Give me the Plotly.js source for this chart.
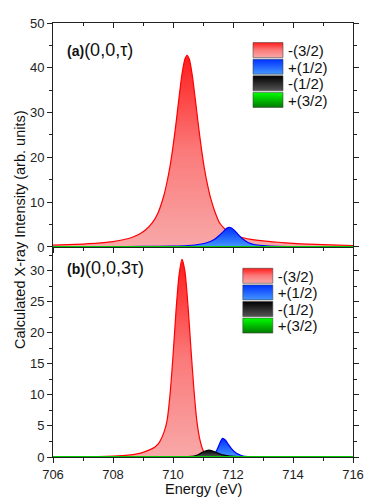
<!DOCTYPE html>
<html>
<head>
<meta charset="utf-8">
<script src="https://cdn.plot.ly/plotly-3.0.1.min.js"></script>
<style>
  html, body { margin: 0; padding: 0; background: #fff; }
  #chart { width: 374px; height: 498px; }
</style>
</head>
<body>
<div id="chart"></div>
<script>
const labels = ['-(3/2)', '+(1/2)', '-(1/2)', '+(3/2)'];

// panel (a): (0,0,tau)
const aRedX = [706.0, 706.5, 707.0, 707.5, 708.0, 708.3, 708.6, 708.9, 709.1, 709.3, 709.5, 709.7, 709.8, 709.9, 710.0, 710.1, 710.2, 710.3, 710.4, 710.47, 710.55, 710.65, 710.75, 710.85, 710.95, 711.05, 711.15, 711.25, 711.4, 711.55, 711.7, 711.85, 712.0, 712.3, 712.6, 713.0, 713.5, 714.0, 714.5, 715.0, 715.5, 716.0];
const aRedY = [0.40, 0.50, 0.65, 0.85, 1.20, 1.55, 2.05, 2.95, 3.90, 5.30, 7.60, 11.6, 14.5, 18.0, 22.4, 27.6, 33.3, 38.6, 42.0, 42.8, 41.8, 38.0, 32.6, 27.0, 21.8, 17.4, 13.9, 11.0, 7.8, 5.4, 4.2, 3.3, 2.7, 2.1, 1.7, 1.35, 1.05, 0.8, 0.62, 0.5, 0.4, 0.32];
const aBlueX = [706.0, 708.0, 709.0, 710.0, 710.5, 710.9, 711.2, 711.4, 711.55, 711.7, 711.8, 711.88, 711.95, 712.05, 712.2, 712.35, 712.5, 712.7, 713.0, 713.5, 714.0, 715.0, 716.0];
const aBlueY = [0.03, 0.07, 0.11, 0.19, 0.32, 0.6, 1.1, 1.8, 2.6, 3.6, 4.2, 4.4, 4.25, 3.7, 2.6, 1.65, 1.0, 0.55, 0.3, 0.12, 0.07, 0.04, 0.03];
const aBlackX = [706, 709, 710.5, 711.2, 712, 713, 716];
const aBlackY = [0, 0.01, 0.03, 0.05, 0.03, 0.01, 0];
const aGreenX = [706, 708, 710, 712, 714, 716];
const aGreenY = [0, 0, 0.01, 0.01, 0, 0];

// panel (b): (0,0,3tau)
const bRedX = [706.0, 707.0, 707.5, 708.0, 708.5, 708.8, 709.0, 709.2, 709.4, 709.55, 709.7, 709.8, 709.9, 710.0, 710.1, 710.2, 710.3, 710.4, 710.5, 710.6, 710.7, 710.8, 710.9, 711.0, 711.1, 711.2, 711.4, 712.0, 716.0];
const bRedY = [0.02, 0.05, 0.08, 0.15, 0.3, 0.5, 0.75, 1.1, 1.6, 2.4, 4.0, 5.8, 10.0, 16.2, 23.5, 29.2, 31.8, 29.8, 24.3, 17.3, 10.7, 5.6, 2.7, 1.1, 0.35, 0.1, 0.03, 0.01, 0];
const bBlueX = [706, 710.5, 711.2, 711.35, 711.45, 711.55, 711.65, 711.75, 711.85, 711.95, 712.05, 712.15, 712.3, 712.5, 713, 716];
const bBlueY = [0, 0.01, 0.05, 0.35, 1.0, 2.1, 3.0, 2.7, 2.0, 1.35, 0.85, 0.5, 0.2, 0.05, 0.01, 0];
const bBlackX = [706, 710.0, 710.5, 710.7, 710.85, 711.0, 711.1, 711.2, 711.3, 711.4, 711.55, 711.7, 711.9, 712.2, 712.6, 713, 716];
const bBlackY = [0, 0.01, 0.05, 0.15, 0.4, 0.8, 1.0, 1.1, 1.0, 0.8, 0.5, 0.3, 0.15, 0.05, 0.01, 0, 0];
const bGreenX = [706, 708, 710, 712, 714, 716];
const bGreenY = [0, 0, 0, 0, 0, 0];

const lineColors = ['#ff0000', '#0000ff', '#000000', '#00c800'];
const gradients = [
  [[0, '#f8a8a8'], [0.5, '#fb7a7a'], [1, '#ff1c1c']],
  [[0, '#4497ff'], [1, '#0030ff']],
  [[0, '#555555'], [1, '#000000']],
  [[0, '#007a00'], [1, '#00ff00']]
];

function area(x, y, i, panel) {
  return {
    type: 'scatter', mode: 'lines', x: x, y: y, name: labels[i],
    xaxis: panel === 'a' ? 'x2' : 'x',
    yaxis: panel === 'a' ? 'y' : 'y2',
    legend: panel === 'a' ? 'legend' : 'legend2',
    fill: 'tozeroy',
    fillgradient: { type: 'vertical', colorscale: gradients[i] },
    line: { color: lineColors[i], width: i === 3 ? 2 : 1.2, shape: 'spline', smoothing: 0.6 },
    hoverinfo: 'skip'
  };
}

const data = [
  area(aRedX, aRedY, 0, 'a'), area(aBlueX, aBlueY, 1, 'a'),
  area(aBlackX, aBlackY, 2, 'a'), area(aGreenX, aGreenY, 3, 'a'),
  area(bRedX, bRedY, 0, 'b'), area(bBlueX, bBlueY, 1, 'b'),
  area(bBlackX, bBlackY, 2, 'b'), area(bGreenX, bGreenY, 3, 'b'),
  { type: 'scatter', x: [], y: [], xaxis: 'x3', yaxis: 'y', showlegend: false, hoverinfo: 'skip' }
];

const font = 'Liberation Sans, Arial, sans-serif';
const axisBase = {
  showline: true, linecolor: '#222', linewidth: 1, showgrid: false, zeroline: false,
  ticks: 'outside', ticklen: 5, tickwidth: 1, tickcolor: '#222',
  tickfont: { family: font, size: 13, color: '#222' }
};

const layout = {
  width: 374, height: 498,
  margin: { l: 53, r: 21, t: 23, b: 41 },
  paper_bgcolor: '#fff', plot_bgcolor: '#fff',
  font: { family: font, color: '#111' },
  xaxis: Object.assign({}, axisBase, {
    anchor: 'y2', range: [706, 716], tick0: 706, dtick: 2,
    minor: { dtick: 1, ticks: 'outside', ticklen: 3, tickcolor: '#222' }
  }),
  xaxis2: Object.assign({}, axisBase, {
    anchor: 'y', range: [706, 716], tick0: 706, dtick: 2, showticklabels: false,
    minor: { dtick: 1, ticks: 'outside', ticklen: 3, tickcolor: '#222' }
  }),
  xaxis3: Object.assign({}, axisBase, {
    anchor: 'y', overlaying: 'x2', side: 'top', range: [706, 716], tick0: 706, dtick: 2,
    ticks: 'inside', showticklabels: false,
    minor: { dtick: 1, ticks: 'inside', ticklen: 3, tickcolor: '#222' }
  }),
  yaxis: Object.assign({}, axisBase, {
    anchor: 'x2', domain: [0.484, 1], range: [0, 50], dtick: 10, mirror: 'ticks',
    minor: { dtick: 5, ticks: 'outside', ticklen: 3, tickcolor: '#222' }
  }),
  yaxis2: Object.assign({}, axisBase, {
    anchor: 'x', domain: [0, 0.484], range: [0, 33.8], dtick: 5, mirror: 'ticks',
    minor: { dtick: 2.5, ticks: 'outside', ticklen: 3, tickcolor: '#222' }
  }),
  legend: {
    x: 0.65, y: 0.975, xanchor: 'left', yanchor: 'top',
    bgcolor: 'rgba(0,0,0,0)', borderwidth: 0,
    font: { family: font, size: 15, color: '#111' }
  },
  legend2: {
    x: 0.616, y: 0.455, xanchor: 'left', yanchor: 'top',
    bgcolor: 'rgba(0,0,0,0)', borderwidth: 0,
    font: { family: font, size: 15, color: '#111' }
  },
  annotations: [
    { xref: 'paper', yref: 'paper', x: 0.04, y: 0.938, xanchor: 'left', yanchor: 'middle', showarrow: false,
      text: '<b>(a)</b><span style="font-size:18px">(0,0,τ)</span>', font: { family: font, size: 14, color: '#111' } },
    { xref: 'paper', yref: 'paper', x: 0.04, y: 0.4355, xanchor: 'left', yanchor: 'middle', showarrow: false,
      text: '<b>(b)</b><span style="font-size:18px">(0,0,3τ)</span>', font: { family: font, size: 14, color: '#111' } },
    { xref: 'paper', yref: 'paper', x: -0.11, y: 0.523, xanchor: 'center', yanchor: 'middle', showarrow: false,
      textangle: -90, text: 'Calculated X-ray Intensity (arb. units)', font: { family: font, size: 14.5, color: '#111' } },
    { xref: 'paper', yref: 'paper', x: 0.5, y: -0.05, xanchor: 'center', yanchor: 'top', showarrow: false,
      text: 'Energy (eV)', font: { family: font, size: 14.5, color: '#111' } }
  ],
  showlegend: true
};

// Origin-style legend: taller swatches, tighter rows
function tidyLegends() {
  const groups = new Set();
  document.querySelectorAll('#chart .infolayer g.traces').forEach(function (g) { groups.add(g.parentNode); });
  groups.forEach(function (parent) {
    const items = Array.from(parent.children).filter(function (c) { return c.classList.contains('traces'); });
    if (!items.length) return;
    const m = /translate\(([-\d.]+)[ ,]+([-\d.]+)\)/.exec(items[0].getAttribute('transform') || '');
    if (!m) return;
    const x0 = parseFloat(m[1]), y0 = parseFloat(m[2]);
    items.forEach(function (item, i) {
      item.setAttribute('transform', 'translate(' + x0 + ',' + (y0 + i * 16.6) + ')');
      const fill = item.querySelector('.legendfill path');
      if (fill) fill.setAttribute('d', 'M5,-7.5h30v15h-30z');
      const line = item.querySelector('.legendlines path');
      if (line) {
        line.setAttribute('d', 'M5,-7.5h30v15h-30z');
        line.style.fill = 'none';
        line.style.stroke = 'rgba(60,60,60,0.55)';
        line.style.strokeWidth = '1px';
      }
    });
  });
}

Plotly.newPlot('chart', data, layout, { staticPlot: true }).then(function (gd) {
  tidyLegends();
  gd.on('plotly_afterplot', tidyLegends);
});
</script>
</body>
</html>
